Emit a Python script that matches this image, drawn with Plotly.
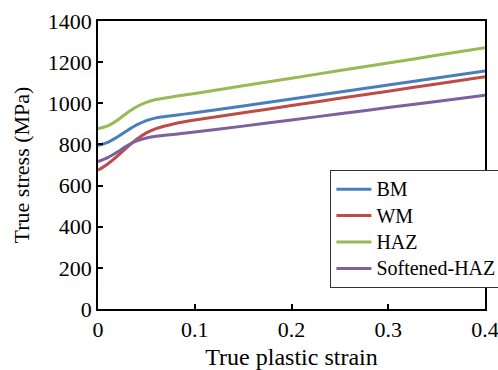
import plotly.graph_objects as go

strain = [0, 0.01, 0.02, 0.03, 0.04, 0.05, 0.06, 0.08, 0.1, 0.15, 0.2, 0.25, 0.3, 0.35, 0.4]
bm = [795, 810, 836, 867, 895, 916, 929, 942, 954, 987, 1021, 1055, 1089, 1123, 1157]
wm = [674, 705, 743, 786, 825, 856, 877, 902, 919, 954, 989, 1024, 1059, 1094, 1129]
haz = [876, 890, 918, 953, 983, 1004, 1018, 1034, 1048, 1085, 1122, 1159, 1196, 1233, 1270]
soft = [717, 736, 763, 793, 817, 831, 840, 850, 860, 889, 919, 949, 979, 1009, 1039]

names = ["BM", "WM", "HAZ", "Softened-HAZ"]
series = [bm, wm, haz, soft]
colors = ["#4A7EBB", "#BE4B48", "#98B954", "#7D60A0"]

x_ticks = [0, 0.1, 0.2, 0.3, 0.4]
x_labels = ["0", "0.1", "0.2", "0.3", "0.4"]
y_ticks = [0, 200, 400, 600, 800, 1000, 1200, 1400]

font = "Liberation Serif"

fig = go.Figure()
for n, s, c in zip(names, series, colors):
    fig.add_trace(go.Scatter(x=strain, y=s, name="<span style='font-size:20px'>" + n + "</span>",
                             mode="lines",
                             line=dict(color=c, width=3, shape="spline", smoothing=0.7)))

fig.update_layout(
    width=498, height=370,
    margin=dict(l=98, r=12.5, t=21, b=61, autoexpand=False),
    paper_bgcolor="white", plot_bgcolor="white",
    font=dict(family=font, size=22, color="black"),
    showlegend=True,
    legend=dict(x=(330.7 - 98) / 387.5, y=(309 - 170) / 288, xanchor="left", yanchor="top",
                bgcolor="white", bordercolor="#333333", borderwidth=1,
                font=dict(family=font, size=18, color="black"),
                itemwidth=35, tracegroupgap=0),
)
fig.update_xaxes(range=[0, 0.4], tickvals=x_ticks, ticktext=x_labels,
                 ticklabeloverflow="allow",
                 showgrid=False, zeroline=False, showline=True, linecolor="black",
                 linewidth=1.5, mirror=True, ticks="inside", ticklen=5, tickcolor="black",
                 tickwidth=1.5,
                 title=dict(text="True plastic strain", standoff=17,
                            font=dict(family=font, size=24)))
fig.update_yaxes(range=[0, 1400], tickvals=y_ticks,
                 ticklabeloverflow="allow",
                 showgrid=False, zeroline=False, showline=True, linecolor="black",
                 linewidth=1.5, mirror=True, ticks="inside", ticklen=5, tickcolor="black",
                 tickwidth=1.5,
                 title=dict(text="True stress (MPa)", standoff=12,
                            font=dict(family=font, size=22)))

fig.write_html("out.html")
